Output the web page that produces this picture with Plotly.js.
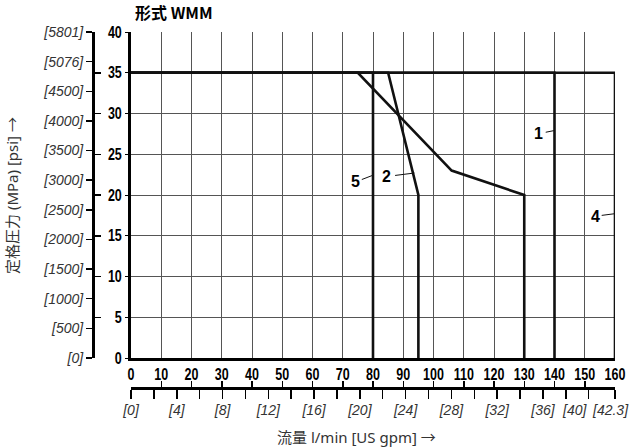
<!DOCTYPE html>
<html><head><meta charset="utf-8">
<script src="https://cdn.plot.ly/plotly-3.0.1.min.js"></script>
<style>html,body{margin:0;padding:0;background:#fff}</style>
</head><body><div id="chart" style="width:631px;height:448px"></div>
<script>
// Flow (l/min) and pressure (MPa) for each curve
const curve1X = [0, 140, 140];      const curve1Y = [35, 35, 0];
const curve2X = [0, 85, 95, 95];    const curve2Y = [35, 35, 20, 0];
const curve3X = [0, 75, 106, 130, 130]; const curve3Y = [35, 35, 23, 20, 0];
const curve4X = [0, 160, 160];      const curve4Y = [35, 35, 0];
const curve5X = [0, 80, 80];        const curve5Y = [35, 35, 0];

const psiLabels = ['[0]','[500]','[1000]','[1500]','[2000]','[2500]','[3000]','[3500]','[4000]','[4500]','[5076]','[5801]'];
const gpmTicks = [0,2,4,6,8,10,12,14,16,18,20,22,24,26,28,30,32,34,36,38,40,42.3];
const gpmLabels = ['[0]','','[4]','','[8]','','[12]','','[16]','','[20]','','[24]','','[28]','','[32]','','[36]','','',''];
const gpm40Value = 40;
const gpm40Label = '[40]';
const gpmEndValue = 42.3;
const gpmEndLabel = '[42.3]';

const L = 80, R = 16, T = 32, B = 40, W = 631 - L - R, H = 448 - T - B;
const px = v => (v - L) / W;
const py = v => (448 - B - v) / H;

const numFont = {family: '"Liberation Sans", Arial, sans-serif', size: 16, color: '#000', weight: 700};
const italicFont = {family: '"Liberation Sans", Arial, sans-serif', size: 14, color: '#333', style: 'italic'};
const lineStyle = {color: '#111', width: 2.6};
const mk = (x, y) => ({x, y, type: 'scatter', mode: 'lines', line: lineStyle, hoverinfo: 'skip', showlegend: false, cliponaxis: false});
const helper = (xa, ya) => ({x: [null], y: [null], xaxis: xa, yaxis: ya, type: 'scatter', mode: 'lines', hoverinfo: 'skip', showlegend: false});

const traces = [mk(curve1X, curve1Y), mk(curve2X, curve2Y), mk(curve3X, curve3Y), mk(curve4X, curve4Y), mk(curve5X, curve5Y),
  helper('x', 'y2'), helper('x', 'y3'), helper('x2', 'y'), helper('x3', 'y')];

const leader = (x0, y0, x1, y1) => ({type: 'line', xref: 'x', yref: 'y', x0, y0, x1, y1, line: {color: '#111', width: 1}});
const lab = (t, x, y) => ({text: t, x, y, xref: 'x', yref: 'y', showarrow: false, font: numFont, xanchor: 'center', yanchor: 'middle'});

const layout = {
  width: 631, height: 448,
  margin: {l: L, r: R, t: T, b: B},
  paper_bgcolor: '#fff', plot_bgcolor: '#fff',
  showlegend: false,
  xaxis: {
    domain: [px(131), 1], range: [0, 160], dtick: 10, tick0: 0,
    showgrid: true, gridcolor: '#555', gridwidth: 1, zeroline: false,
    showline: true, linecolor: '#000', linewidth: 3,
    ticks: '', tickfont: numFont, ticklabelstandoff: 0
  },
  yaxis: {
    domain: [py(358), 1], range: [0, 40], dtick: 5, tick0: 0,
    showgrid: true, gridcolor: '#555', gridwidth: 1, zeroline: false,
    showline: true, linecolor: '#000', linewidth: 3,
    ticks: 'outside', ticklen: 3, tickcolor: '#000', tickfont: numFont, ticklabelstandoff: 0
  },
  yaxis2: {
    overlaying: 'y', anchor: 'free', position: px(93), side: 'left',
    range: [0, 11], tickvals: [0,1,2,3,4,5,6,7,8,9,10,11], ticktext: psiLabels,
    showgrid: false, zeroline: false, showline: true, linecolor: '#000', linewidth: 2.5,
    ticks: 'outside', ticklen: 6, tickwidth: 1.5, tickcolor: '#000', tickfont: italicFont
  },
  yaxis3: {
    overlaying: 'y', anchor: 'free', position: px(93), side: 'left',
    range: [0, 40], dtick: 5, showticklabels: false,
    showgrid: false, zeroline: false, showline: false,
    ticks: 'inside', ticklen: 7, tickwidth: 1.5, tickcolor: '#000'
  },
  xaxis2: {
    overlaying: 'x', anchor: 'free', position: py(388), side: 'bottom',
    range: [0, gpmEndValue], tickvals: gpmTicks, ticktext: gpmLabels,
    showgrid: false, zeroline: false, showline: true, linecolor: '#000', linewidth: 2.5,
    ticks: 'outside', ticklen: 9, tickwidth: 1.5, tickcolor: '#000', tickfont: italicFont
  },
  xaxis3: {
    overlaying: 'x', anchor: 'free', position: py(388), side: 'bottom',
    range: [0, 160], dtick: 10, showticklabels: false,
    showgrid: false, zeroline: false, showline: false,
    ticks: 'inside', ticklen: 7, tickwidth: 1.5, tickcolor: '#000'
  },
  shapes: [
    leader(137.1, 27.7, 139.8, 27.9),
    leader(155.6, 17.5, 159.8, 17.7),
    leader(76.3, 21.9, 79.8, 22.4),
    leader(87.3, 22.4, 93.7, 22.7)
  ],
  annotations: [
    lab('1', 134.8, 27.6), lab('4', 153.7, 17.4), lab('5', 74.1, 21.7), lab('2', 84.6, 22.3),
    {text: gpm40Label, xref: 'x2', yref: 'paper', x: gpm40Value, y: py(410), xshift: -1, xanchor: 'right', yanchor: 'middle', showarrow: false, font: italicFont, borderpad: 0},
    {text: gpmEndLabel, xref: 'x2', yref: 'paper', x: gpmEndValue, y: py(410), xshift: 15, xanchor: 'right', yanchor: 'middle', showarrow: false, font: italicFont, borderpad: 0},
    {text: '<b>形式 WMM</b>', xref: 'paper', yref: 'paper', x: px(133), y: py(12), xanchor: 'left', yanchor: 'middle', showarrow: false,
     font: {family: '"Noto Sans CJK JP", sans-serif', size: 16, color: '#000'}},
    {text: '定格圧力 (MPa) [psi] →', xref: 'paper', yref: 'paper', x: px(12), y: py(196), xanchor: 'center', yanchor: 'middle', textangle: -90, showarrow: false,
     font: {family: '"Noto Sans", "Noto Sans CJK JP", sans-serif', size: 15, color: '#333'}},
    {text: '流量 l/min [US gpm] →', xref: 'paper', yref: 'paper', x: px(356), y: py(437), xanchor: 'center', yanchor: 'middle', showarrow: false,
     font: {family: '"Noto Sans", "Noto Sans CJK JP", sans-serif', size: 15, color: '#333'}}
  ]
};

Plotly.newPlot('chart', traces, layout, {staticPlot: true, displayModeBar: false}).then(gd => {
  // condense the bold numeric labels to resemble a narrow typeface
  gd.querySelectorAll('.xtick text, .ytick text').forEach(t => {
    const w = t.getComputedTextLength();
    if (w > 0) { t.setAttribute('textLength', (w * 0.78).toFixed(2)); t.setAttribute('lengthAdjust', 'spacingAndGlyphs'); }
  });
});
</script></body></html>
